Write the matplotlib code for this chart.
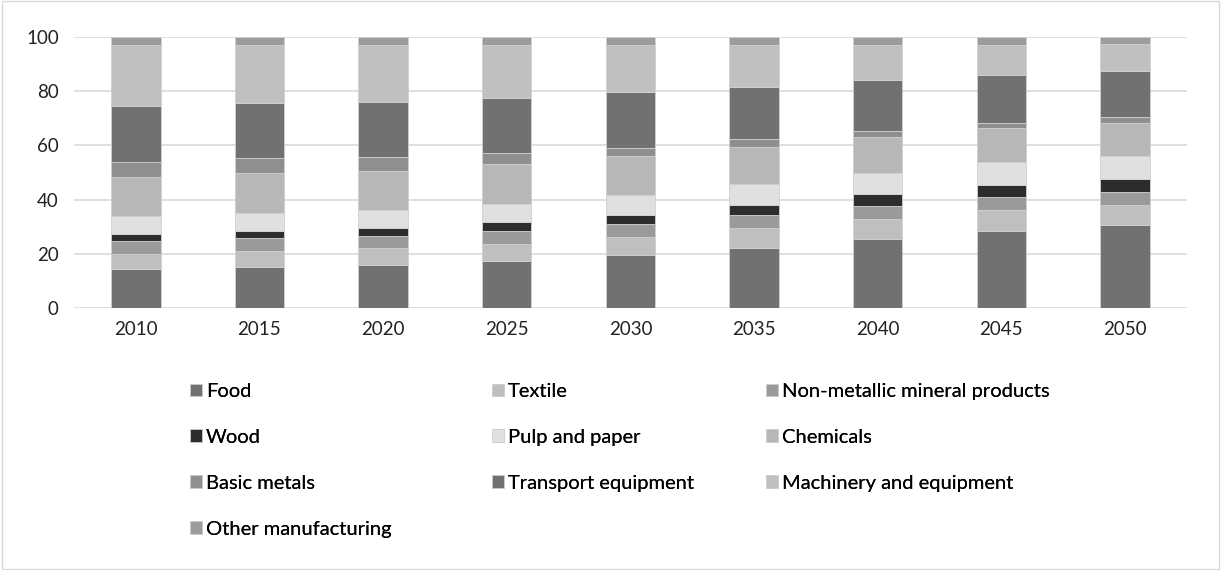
import matplotlib.pyplot as plt
import numpy as np
from matplotlib.patches import Rectangle

years = ['2010', '2015', '2020', '2025', '2030', '2035', '2040', '2045', '2050']

food = [14.5, 15.1, 15.9, 17.3, 19.7, 22.3, 25.5, 28.4, 30.6]
textile = [5.5, 5.9, 6.1, 6.3, 6.5, 7.1, 7.2, 7.6, 7.5]
non_metallic = [4.8, 4.7, 4.7, 4.7, 4.7, 4.8, 4.8, 4.8, 4.7]
wood = [2.4, 2.7, 2.7, 3.3, 3.4, 3.9, 4.6, 4.7, 5.0]
pulp_paper = [6.9, 6.8, 6.9, 6.9, 7.4, 7.5, 7.7, 8.3, 8.4]
chemicals = [14.4, 14.5, 14.3, 14.5, 14.3, 13.7, 13.3, 12.5, 12.1]
basic_metals = [5.4, 5.5, 5.0, 4.1, 3.2, 2.9, 2.1, 2.1, 2.1]
transport = [20.5, 20.3, 20.3, 20.4, 20.4, 19.3, 18.8, 17.7, 17.1]
machinery = [22.5, 21.4, 21.0, 19.7, 17.6, 15.7, 13.2, 11.1, 9.9]
other = [3.1, 3.1, 3.1, 2.8, 2.8, 2.8, 2.8, 2.8, 2.6]

labels = ['Food', 'Textile', 'Non-metallic mineral products', 'Wood', 'Pulp and paper',
          'Chemicals', 'Basic metals', 'Transport equipment', 'Machinery and equipment',
          'Other manufacturing']
series = [food, textile, non_metallic, wood, pulp_paper, chemicals, basic_metals,
          transport, machinery, other]
colors = ['#717171', '#bfbfbf', '#9a9a9a', '#2d2d2d', '#e0e0e0',
          '#b7b7b7', '#8f8f8f', '#717171', '#c0c0c0', '#9c9c9c']

plt.rcParams['font.family'] = ['Lato', 'DejaVu Sans']

fig = plt.figure(figsize=(12.21, 5.70), dpi=100)
ax = fig.add_axes([0.0606, 0.4596, 0.9114, 0.4754])

x = np.arange(len(years))
bottom = np.zeros(len(years))
handles = []
for vals, lab, col in zip(series, labels, colors):
    b = ax.bar(x, vals, 0.4, bottom=bottom, color=col, edgecolor='#d0d0d0',
               linewidth=0.6, label=lab, zorder=3)
    handles.append(b)
    bottom += np.array(vals)

ax.set_xlim(-0.5, len(years) - 0.5)
ax.set_ylim(0, 100)
ax.set_yticks([0, 20, 40, 60, 80, 100])
ax.set_xticks(x)
ax.set_xticklabels(years)
ax.tick_params(axis='both', length=0, labelsize=13.5, colors='#222222')
ax.tick_params(axis='x', pad=9)
ax.tick_params(axis='y', pad=11)
ax.grid(axis='y', color='#d9d9d9', linewidth=1.2, zorder=0)
for s in ax.spines.values():
    s.set_visible(False)

# legend laid out in three columns, row-major like the original
col_x = [0.149, 0.396, 0.621]
for c in range(3):
    idx = list(range(c, len(labels), 3))
    leg = fig.legend([handles[i] for i in idx], [labels[i] for i in idx],
                     loc='upper left', bbox_to_anchor=(col_x[c], 0.342),
                     frameon=False, fontsize=14.5, handlelength=0.6, handleheight=0.6,
                     handletextpad=0.2, labelspacing=1.43, borderaxespad=0)
    fig.add_artist(leg)

fig.add_artist(Rectangle((0.002, 0.002), 0.996, 0.996, transform=fig.transFigure,
                         fill=False, edgecolor='#d9d9d9', linewidth=1))

fig.savefig('out.png', dpi=100)
